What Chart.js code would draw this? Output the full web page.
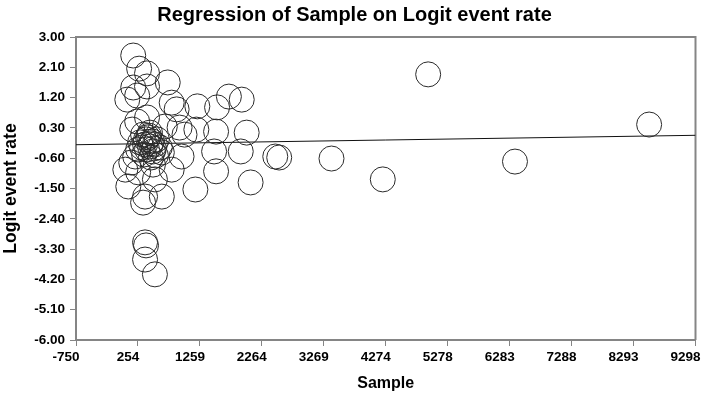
<!DOCTYPE html>
<html>
<head>
<meta charset="utf-8">
<script src="https://cdn.jsdelivr.net/npm/chart.js@4.4.0/dist/chart.umd.min.js"></script>
<style>
  html, body { margin: 0; padding: 0; background: #fff; }
  #wrap { width: 709px; height: 404px; }
</style>
</head>
<body>
<div id="wrap"><canvas id="chart"></canvas></div>
<script>
// study points
const sampleSizes = [
  178, 274, 402, 738, 178, 402, 82, 242, 802, 882,
  1218, 1538, 1730, 1938, 242, 402, 162, 930, 1202, 1522,
  2018, 690, 1010, 338, 418, 482, 370, 450, 530, 402,
  498, 290, 562, 450, 354, 546, 466, 258, 610, 210,
  642, 962, 498, 258, 50, 802, 530, 98, 370, 642,
  338, 1186, 1490, 1522, 2082, 1922, 370, 386, 370, 530,
  2482, 2546, 3394, 4226, 4962, 6370, 8546, 146,
  386, 466, 434, 514, 322
];
const logitRates = [
  2.45, 2.06, 1.92, 1.65, 1.50, 1.53, 1.14, 1.26, 1.05, 0.85,
  0.94, 0.91, 1.23, 1.14, 0.49, 0.61, 0.25, 0.31, 0.25, 0.19,
  0.16, 0.34, 0.10, 0.10, 0.02, -0.10, -0.19, -0.25, -0.19, -0.34,
  -0.40, -0.13, -0.04, 0.16, -0.49, -0.52, -0.58, -0.34, -0.28, -0.55,
  -0.43, -0.55, -0.79, -1.02, -0.94, -0.94, -1.23, -1.44, -1.74, -1.74,
  -1.92, -1.53, -0.40, -0.99, -1.32, -0.40, -3.10, -3.19, -3.61, -4.05,
  -0.55, -0.58, -0.61, -1.23, 1.89, -0.70, 0.40, -0.73,
  -0.04, -0.16, 0.07, -0.31, -0.28
];

// fitted line end points
const regX = [-750, 9298];
const regY = [-0.20, 0.08];

// tick labels as printed
const xTickLabels = ['-750', '254', '1259', '2264', '3269', '4274', '5278', '6283', '7288', '8293', '9298'];
const yTickLabels = ['3.00', '2.10', '1.20', '0.30', '-0.60', '-1.50', '-2.40', '-3.30', '-4.20', '-5.10', '-6.00'];

function hasFont(name) {
  const c = document.createElement('canvas').getContext('2d');
  c.font = 'bold 40px monospace';
  const w1 = c.measureText('Regression 0123').width;
  c.font = 'bold 40px "' + name + '", monospace';
  return c.measureText('Regression 0123').width !== w1;
}

const narrow = hasFont('Liberation Sans Narrow');
const family = narrow ? '"Liberation Sans Narrow", "Arial Narrow", sans-serif' : '"Liberation Sans", Arial, sans-serif';
const tickSize = narrow ? 16 : 13.5;
const xTitleSize = narrow ? 19 : 16;
const yTitleSize = narrow ? 19 : 17.5;
const titleSize = narrow ? 22 : 20;

const axisGray = '#858585';

const points = sampleSizes.map((x, i) => ({ x: x, y: logitRates[i] }));
const regLine = regX.map((x, i) => ({ x: x, y: regY[i] }));

// box round the plot (top and right sides)
const frame = {
  id: 'frame',
  beforeDatasetsDraw(chart) {
    const { ctx, chartArea: a } = chart;
    ctx.save();
    ctx.strokeStyle = axisGray;
    ctx.lineWidth = 2;
    ctx.beginPath();
    ctx.moveTo(a.left, a.top);
    ctx.lineTo(a.right, a.top);
    ctx.lineTo(a.right, a.bottom);
    ctx.stroke();
    ctx.restore();
  }
};

new Chart(document.getElementById('chart'), {
  type: 'scatter',
  data: {
    datasets: [
      {
        data: points,
        pointRadius: 12.5,
        pointHoverRadius: 12.5,
        pointBackgroundColor: 'rgba(0,0,0,0)',
        pointBorderColor: '#2a2a2a',
        pointBorderWidth: 1
      },
      {
        type: 'line',
        data: regLine,
        borderColor: '#111',
        borderWidth: 1,
        pointRadius: 0,
        fill: false
      }
    ]
  },
  plugins: [frame],
  options: {
    responsive: true,
    maintainAspectRatio: false,
    animation: false,
    layout: { padding: 0 },
    plugins: {
      legend: { display: false },
      tooltip: { enabled: false },
      title: {
        display: true,
        text: 'Regression of Sample on Logit event rate',
        color: '#000',
        font: { family: family, size: titleSize, weight: 'bold' },
        padding: { top: 3, bottom: 37 - 3 - titleSize * 1.2 }
      }
    },
    scales: {
      x: {
        type: 'linear',
        min: -750,
        max: 9298,
        afterBuildTicks: s => { s.ticks = xTickLabels.map((t, i) => ({ value: -750 + i * 1004.8 })); },
        afterFit: s => { s.height = 64; s.paddingLeft = 0; s.paddingRight = 3; },
        ticks: {
          color: '#000',
          font: { family: family, size: tickSize, weight: 'bold' },
          padding: 3,
          labelOffset: -10,
          maxRotation: 0,
          autoSkip: false,
          callback: (v, i) => xTickLabels[i]
        },
        grid: { drawOnChartArea: false, drawTicks: true, tickLength: 6, color: axisGray, lineWidth: 1 },
        border: { display: true, color: axisGray, width: 2 },
        title: {
          display: true,
          text: 'Sample',
          color: '#000',
          font: { family: family, size: xTitleSize, weight: 'bold' },
          padding: { top: 4, bottom: 11 }
        }
      },
      y: {
        type: 'linear',
        min: -6,
        max: 3,
        afterBuildTicks: s => { s.ticks = yTickLabels.map((t, i) => ({ value: 3 - i * 0.9 })); },
        afterFit: s => { s.width = 76; },
        ticks: {
          color: '#000',
          font: { family: family, size: tickSize, weight: 'bold' },
          padding: 5,
          autoSkip: false,
          callback: (v, i) => yTickLabels[i]
        },
        grid: { drawOnChartArea: false, drawTicks: true, tickLength: 6, color: axisGray, lineWidth: 1 },
        border: { display: true, color: axisGray, width: 2 },
        title: {
          display: true,
          text: 'Logit event rate',
          color: '#000',
          font: { family: family, size: yTitleSize, weight: 'bold' },
          padding: { top: 1, bottom: 0 }
        }
      }
    }
  }
});
</script>
</body>
</html>
